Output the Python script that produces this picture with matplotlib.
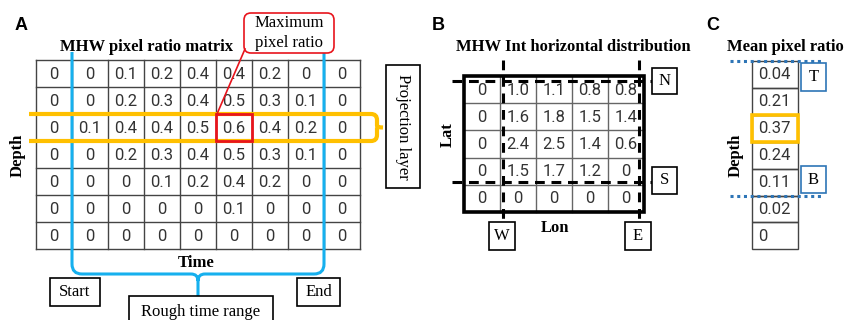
import matplotlib
matplotlib.use('Agg')
import matplotlib.pyplot as plt
from matplotlib.patches import Rectangle, FancyBboxPatch, PathPatch
from matplotlib.path import Path

# --- data ---
pixel_ratio = [
    [0, 0, 0.1, 0.2, 0.4, 0.4, 0.2, 0, 0],
    [0, 0, 0.2, 0.3, 0.4, 0.5, 0.3, 0.1, 0],
    [0, 0.1, 0.4, 0.4, 0.5, 0.6, 0.4, 0.2, 0],
    [0, 0, 0.2, 0.3, 0.4, 0.5, 0.3, 0.1, 0],
    [0, 0, 0, 0.1, 0.2, 0.4, 0.2, 0, 0],
    [0, 0, 0, 0, 0, 0.1, 0, 0, 0],
    [0, 0, 0, 0, 0, 0, 0, 0, 0],
]
int_horizontal = [
    [0, 1.0, 1.1, 0.8, 0.8],
    [0, 1.6, 1.8, 1.5, 1.4],
    [0, 2.4, 2.5, 1.4, 0.6],
    [0, 1.5, 1.7, 1.2, 0],
    [0, 0, 0, 0, 0],
]
mean_ratio = [0.04, 0.21, 0.37, 0.24, 0.11, 0.02, 0]

max_row, max_col = 2, 5
start_col, end_col = 1, 8          # rough time range edges (column index)
w_col, e_col = 1, 5                # lon bounds (grid line index)
n_row, s_row = 0, 4                # lat bounds (grid line index)
top_layer, bottom_layer = 0, 5     # projection band in panel C

SERIF = 'Liberation Serif'
SANS = 'Liberation Sans'
NUM = dict(family=['Roboto', 'DejaVu Sans'], fontsize=12, color='#333333')
BLUE = '#16b0ee'
ORANGE = '#ffc000'
DBLUE = '#2e75b6'

fig = plt.figure(figsize=(8.45, 3.2), dpi=100)
ax = fig.add_axes([0, 0, 1, 1])
ax.set_xlim(0, 845)
ax.set_ylim(320, 0)
ax.axis('off')


def box(x0, y0, x1, y1, text, rot=0, color='black', lw=1.2, fs=12, ty=None):
    ax.add_patch(Rectangle((x0, y0), x1 - x0, y1 - y0, fill=True, fc='white',
                           ec=color, lw=lw, zorder=4))
    ax.text((x0 + x1) / 2, (y0 + y1) / 2 if ty is None else ty, text,
            family=SERIF, fontsize=fs, ha='center', va='center', rotation=rot,
            zorder=5)


def fmt1(v):
    return '0' if v == 0 else '%.1f' % v


# ================= Panel A =================
ax0, ay0, cw, ch = 36, 60, 36, 27
nr, nc = len(pixel_ratio), len(pixel_ratio[0])
for i in range(nr + 1):
    ax.plot([ax0, ax0 + nc * cw], [ay0 + i * ch] * 2, color='#444444', lw=1, zorder=1)
for j in range(nc + 1):
    ax.plot([ax0 + j * cw] * 2, [ay0, ay0 + nr * ch], color='#444444', lw=1, zorder=1)
for i, row in enumerate(pixel_ratio):
    for j, v in enumerate(row):
        ax.text(ax0 + (j + 0.5) * cw, ay0 + (i + 0.52) * ch, '%g' % v,
                ha='center', va='center', **NUM, zorder=3)

ax.text(15, 25, 'A', family=SANS, fontweight='bold', fontsize=13, va='center')
ax.text(147, 47, 'MHW pixel ratio matrix', family=SERIF, fontweight='bold',
        fontsize=12, ha='center', va='center')
ax.text(18, 155, 'Depth', family=SERIF, fontweight='bold', fontsize=12,
        rotation=90, ha='center', va='center')
ax.text(196, 263, 'Time', family=SERIF, fontweight='bold', fontsize=12,
        ha='center', va='center')

# maximum cell
ax.add_patch(Rectangle((ax0 + max_col * cw, ay0 + max_row * ch), cw, ch,
                       fill=False, ec='#e8141c', lw=2, zorder=6))
ax.add_patch(FancyBboxPatch((244, 13), 90, 40, boxstyle='round,pad=0,rounding_size=7',
                            fc='white', ec='#e8141c', lw=1.2, zorder=6))
ax.text(289, 33, 'Maximum\npixel ratio', family=SERIF, fontsize=12, ha='center',
        va='center', linespacing=1.3, zorder=7)
ax.plot([245, ax0 + max_col * cw + 1], [49, ay0 + max_row * ch], color='#e8141c',
        lw=1.2, zorder=6)

# projection layer (orange band)
yt, yb = ay0 + max_row * ch, ay0 + (max_row + 1) * ch
xr = 377
verts = [(29, yt), (xr - 6, yt), (xr, yt), (xr, yt + 6), (xr, (yt + yb) / 2 - 2),
         (xr, (yt + yb) / 2), (xr + 6, (yt + yb) / 2), (xr, (yt + yb) / 2),
         (xr, (yt + yb) / 2 + 2), (xr, yb - 6), (xr, yb), (xr - 6, yb), (29, yb)]
codes = [Path.MOVETO, Path.LINETO, Path.CURVE3, Path.CURVE3, Path.LINETO,
         Path.CURVE3, Path.CURVE3, Path.MOVETO, Path.LINETO, Path.LINETO,
         Path.CURVE3, Path.CURVE3, Path.LINETO]
ax.add_patch(PathPatch(Path(verts, codes), fill=False, ec=ORANGE, lw=3,
                       capstyle='butt', zorder=5))
box(386, 65, 420, 188, 'Projection layer', rot=270)

# time range brace (blue)
xl, xrr = ax0 + start_col * cw, ax0 + end_col * cw
xm = (xl + xrr) / 2
yh = 274
verts = [(xl, 52), (xl, yh - 10), (xl, yh), (xl + 10, yh), (xm - 7, yh),
         (xm, yh), (xm, yh + 7), (xm, 296),
         (xrr, 52), (xrr, yh - 10), (xrr, yh), (xrr - 10, yh), (xm + 7, yh),
         (xm, yh), (xm, yh + 7)]
codes = [Path.MOVETO, Path.LINETO, Path.CURVE3, Path.CURVE3, Path.LINETO,
         Path.CURVE3, Path.CURVE3, Path.LINETO,
         Path.MOVETO, Path.LINETO, Path.CURVE3, Path.CURVE3, Path.LINETO,
         Path.CURVE3, Path.CURVE3]
ax.add_patch(PathPatch(Path(verts, codes), fill=False, ec=BLUE, lw=2.2, zorder=4))
box(50, 278, 100, 306, 'Start')
box(297, 278, 340, 306, 'End')
box(129, 296, 273, 328, 'Rough time range', ty=312)

# ================= Panel B =================
bx0, by0, bw, bh = 464, 76, 36, 27.2
nr, nc = len(int_horizontal), len(int_horizontal[0])
for i in range(1, nr):
    ax.plot([bx0, bx0 + nc * bw], [by0 + i * bh] * 2, color='#666666', lw=1, zorder=1)
for j in range(1, nc):
    ax.plot([bx0 + j * bw] * 2, [by0, by0 + nr * bh], color='#666666', lw=1, zorder=1)
ax.add_patch(Rectangle((bx0, by0), nc * bw, nr * bh, fill=False, ec='black', lw=2.6,
                       zorder=2))
for i, row in enumerate(int_horizontal):
    for j, v in enumerate(row):
        ax.text(bx0 + (j + 0.5) * bw, by0 + (i + 0.52) * bh, fmt1(v),
                ha='center', va='center', **NUM, zorder=3)

ax.text(432, 25, 'B', family=SANS, fontweight='bold', fontsize=13, va='center')
ax.text(573, 47, 'MHW Int horizontal distribution', family=SERIF, fontweight='bold',
        fontsize=12, ha='center', va='center')
ax.text(448, 135, 'Lat', family=SERIF, fontweight='bold', fontsize=12,
        rotation=90, ha='center', va='center')
ax.text(555, 228, 'Lon', family=SERIF, fontweight='bold', fontsize=12,
        ha='center', va='center')

dash = dict(color='black', lw=2.2, ls=(0, (3.2, 2.2)), zorder=4)
yn = by0 + n_row * bh + 5
ys = by0 + s_row * bh - 3
xw = bx0 + w_col * bw + 3
xe = bx0 + e_col * bw - 5
ax.plot([452, 652], [yn, yn], **dash)
ax.plot([452, 652], [ys, ys], **dash)
ax.plot([xw, xw], [60, 222], **dash)
ax.plot([xe, xe], [60, 222], **dash)
box(652, 68, 677, 94, 'N')
box(652, 167, 677, 194, 'S')
box(489, 222, 515, 250, 'W')
box(625, 222, 651, 250, 'E')

# ================= Panel C =================
cx0, cy0, ccw, cch = 752, 61, 46, 26.9
for i, v in enumerate(mean_ratio):
    ax.add_patch(Rectangle((cx0, cy0 + i * cch), ccw, cch, fill=False,
                           ec='#444444', lw=1, zorder=1))
    ax.text(cx0 + 6, cy0 + (i + 0.52) * cch, '0' if v == 0 else '%.2f' % v,
            ha='left', va='center', **NUM, zorder=3)
imax = mean_ratio.index(max(mean_ratio))
ax.add_patch(Rectangle((cx0, cy0 + imax * cch), ccw, cch, fill=False, ec=ORANGE,
                       lw=2.6, zorder=4))

ax.text(706, 25, 'C', family=SANS, fontweight='bold', fontsize=13, va='center')
ax.text(785, 47, 'Mean pixel ratio', family=SERIF, fontweight='bold',
        fontsize=12, ha='center', va='center')
ax.text(736, 155, 'Depth', family=SERIF, fontweight='bold', fontsize=12,
        rotation=90, ha='center', va='center')

dot = dict(color=DBLUE, lw=2.2, ls=(0, (1, 1.2)), zorder=5)
for k in (top_layer, bottom_layer):
    yy = cy0 + k * cch
    ax.plot([730, 822], [yy, yy], **dot)
box(801, 63, 826, 91, 'T', color=DBLUE)
box(801, 166, 826, 193, 'B', color=DBLUE)

fig.savefig('out.png', dpi=100)
